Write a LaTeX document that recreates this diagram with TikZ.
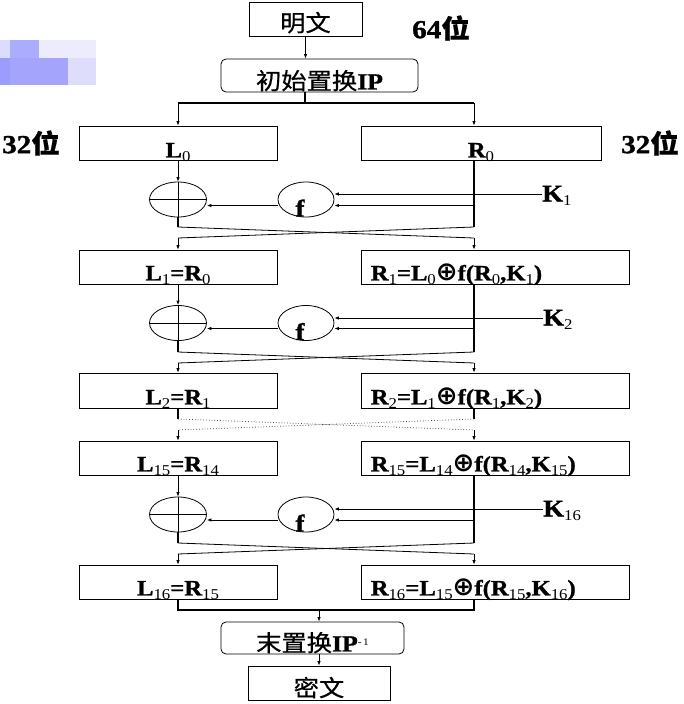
\documentclass[tikz,border=0pt]{standalone}
\usepackage{fontspec}
\usepackage{amsmath, amssymb}
\setmainfont[FakeStretch=1.12, BoldFeatures={FakeBold=1.2}]{Liberation Serif}
\newfontfamily\cjk[FakeStretch=1.1, FakeBold=0.6]{Noto Sans CJK SC}
\newfontfamily\symb{DejaVu Sans}
\usetikzlibrary{positioning, calc, arrows.meta, shapes.geometric}
\definecolor{Ink}{HTML}{000000}
\definecolor{WmA}{HTML}{DCDCFC}
\definecolor{WmB}{HTML}{ACACFC}
\definecolor{WmC}{HTML}{ECECFC}
\definecolor{WmD}{HTML}{9C9CFC}
\definecolor{WmE}{HTML}{A4A4FC}
\definecolor{WmF}{HTML}{DEDEFC}
\newcommand{\idx}[1]{\raisebox{-4pt}{\fontsize{15}{15}\selectfont\mdseries #1}}
\newcommand{\xor}{{\symb\bfseries\fontsize{26}{26}\selectfont ⊕}}
\tikzset{
    blk/.style={rectangle, draw=Ink, line width=0.8pt, minimum height=34pt, inner sep=0pt},
    rblk/.style={blk, rounded corners=5pt},
    oval/.style={ellipse, draw=Ink, line width=0.8pt, minimum width=57pt, minimum height=35pt, inner sep=0pt},
    txt/.style={inner sep=0pt, font=\fontsize{22}{22}\selectfont\bfseries},
    cjktxt/.style={inner sep=0pt, font=\fontsize{23}{23}\selectfont\cjk},
    klabel/.style={inner sep=0pt, font=\fontsize{24}{24}\selectfont\bfseries},
    bits/.style={inner sep=0pt, font=\fontsize{26}{26}\selectfont\bfseries},
    wire/.style={line width=0.8pt, color=Ink},
    bus/.style={line width=1.6pt, color=Ink},
    arrow/.style={wire, -{Latex[length=4.5pt,width=3.5pt]}},
}
\begin{document}
\begin{tikzpicture}[x=1pt, y=-1pt]
    \useasboundingbox (0,0) rectangle (684,704);

    % Riquadri sfocati in alto a sinistra
    \fill[WmA] (0,40) rectangle (10,58);
    \fill[WmB] (10,40) rectangle (39,58);
    \fill[WmC] (39,40) rectangle (96,58);
    \fill[WmD] (0,58) rectangle (10,85);
    \fill[WmE] (10,58) rectangle (68,85);
    \fill[WmF] (68,58) rectangle (96,85);

    % Testo in chiaro e permutazione iniziale
    \node[blk, minimum width=113pt] (plain) at (305.5,19) {};
    \node[cjktxt, anchor=base] (plaint) at ([yshift=5pt]plain.south) {明文};
    \node[bits, anchor=west] (b64) at (412,28) {64{\cjk\bfseries 位}};
    \node[rblk, minimum width=197pt, minimum height=33pt] (ip) at (319.5,75.5) {};
    \node[cjktxt, anchor=base] (ipt) at ([yshift=3pt]ip.south) {初始置换\textbf{\rmfamily IP}};
    \draw[arrow] (plain.south) -- (plain.south |- ip.north);

    % Divisione in L0 e R0
    \node[blk, minimum width=198pt] (l0) at (178,143) {};
    \node[blk, minimum width=240pt] (r0) at (481,143) {};
    \node[txt, anchor=base] (l0t) at ([yshift=3pt]l0.south) {L\idx{0}};
    \node[txt, anchor=base] (r0t) at ([yshift=3pt]r0.south) {R\idx{0}};
    \node[bits, anchor=west] (b32l) at (2,143) {32{\cjk\bfseries 位}};
    \node[bits, anchor=west] (b32r) at (621,143) {32{\cjk\bfseries 位}};
    \coordinate (sp) at (305,103);
    \coordinate (spl) at (178,103);
    \coordinate (spr) at (474,103);
    \draw[bus] (ip.south -| sp) -- (sp);
    \draw[bus] (spl) -- (spr);
    \draw[arrow] (spl) -- (l0.north);
    \draw[arrow] (spr) -- (spr |- r0.north);

    % Round 1
    \node[oval] (xa) at (178,199.5) {};
    \node[oval, minimum width=56pt] (fa) at (306,199.5) {};
    \node[klabel, anchor=base] (fat) at ([xshift=-6pt,yshift=1pt]fa.south) {f};
    \node[klabel, anchor=base west] (ka) at (542,201.5) {K\idx{1}};
    \coordinate (ra) at (474,205.5);
    \draw[arrow] (l0.south) -- (xa.north);
    \draw[wire] (xa.west) -- (xa.east);
    \draw[wire] (xa.north) -- (xa.south);
    \draw[bus] (r0.south -| ra) -- (ra);
    \draw[arrow] (ka.west |- 0,194) -- (fa.east |- 0,194);
    \draw[arrow] (ra) -- (ra -| fa.east);
    \draw[arrow] (fa.west |- ra) -- (xa.east |- ra);
    \coordinate (ca1) at (178,227);
    \coordinate (ca2) at (474,227);
    \coordinate (ca3) at (178,238);
    \coordinate (ca4) at (474,238);
    \draw[bus] (xa.south) -- (ca1);
    \draw[bus] (ra) -- (ca2);
    \draw[wire] (ca1) -- (ca4);
    \draw[wire] (ca2) -- (ca3);

    \node[blk, minimum width=198pt] (l1) at (178,267) {};
    \node[blk, minimum width=268pt] (r1) at (495,267) {};
    \node[txt, anchor=base] (l1t) at ([yshift=4pt]l1.south) {L\idx{1}=R\idx{0}};
    \node[txt, anchor=base west] (r1t) at ([xshift=10pt,yshift=4pt]r1.south west) {R\idx{1}=L\idx{0}\xor f(R\idx{0},K\idx{1})};
    \draw[arrow] (ca3) -- (l1.north);
    \draw[arrow] (ca4) -- (ca4 |- r1.north);

    % Round 2
    \node[oval] (xb) at (178,323) {};
    \node[oval, minimum width=56pt] (fb) at (306,323) {};
    \node[klabel, anchor=base] (fbt) at ([xshift=-6pt,yshift=1pt]fb.south) {f};
    \node[klabel, anchor=base west] (kb) at (543,325.5) {K\idx{2}};
    \coordinate (rb) at (474,328.5);
    \draw[arrow] (l1.south) -- (xb.north);
    \draw[wire] (xb.west) -- (xb.east);
    \draw[wire] (xb.north) -- (xb.south);
    \draw[bus] (r1.south -| rb) -- (rb);
    \draw[arrow] (kb.west |- 0,318) -- (fb.east |- 0,318);
    \draw[arrow] (rb) -- (rb -| fb.east);
    \draw[arrow] (fb.west |- rb) -- (xb.east |- rb);
    \coordinate (cb1) at (178,352);
    \coordinate (cb2) at (474,352);
    \coordinate (cb3) at (178,363);
    \coordinate (cb4) at (474,363);
    \draw[bus] (xb.south) -- (cb1);
    \draw[bus] (rb) -- (cb2);
    \draw[wire] (cb1) -- (cb4);
    \draw[wire] (cb2) -- (cb3);

    \node[blk, minimum width=198pt, minimum height=35pt] (l2) at (178,390.5) {};
    \node[blk, minimum width=268pt, minimum height=35pt] (r2) at (495,390.5) {};
    \node[txt, anchor=base] (l2t) at ([yshift=4pt]l2.south) {L\idx{2}=R\idx{1}};
    \node[txt, anchor=base west] (r2t) at ([xshift=10pt,yshift=4pt]r2.south west) {R\idx{2}=L\idx{1}\xor f(R\idx{1},K\idx{2})};
    \draw[arrow] (cb3) -- (l2.north);
    \draw[arrow] (cb4) -- (cb4 |- r2.north);

    % Round intermedi (puntinato)
    \coordinate (cd1) at (178,419);
    \coordinate (cd2) at (474,419);
    \coordinate (cd3) at (178,430);
    \coordinate (cd4) at (474,430);
    \draw[bus] (l2.south) -- (cd1);
    \draw[bus] (r2.south -| cd2) -- (cd2);
    \draw[wire, dotted, black!70] (cd1) -- (cd4);
    \draw[wire, dotted, black!70] (cd2) -- (cd3);

    \node[blk, minimum width=198pt] (l15) at (178,458) {};
    \node[blk, minimum width=268pt] (r15) at (495,458) {};
    \node[txt, anchor=base] (l15t) at ([yshift=4pt]l15.south) {L\idx{15}=R\idx{14}};
    \node[txt, anchor=base west] (r15t) at ([xshift=10pt,yshift=4pt]r15.south west) {R\idx{15}=L\idx{14}\xor f(R\idx{14},K\idx{15})};
    \draw[arrow] (cd3) -- (l15.north);
    \draw[arrow] (cd4) -- (cd4 |- r15.north);

    % Round 16
    \node[oval] (xc) at (178,514.5) {};
    \node[oval, minimum width=56pt] (fc) at (306,514.5) {};
    \node[klabel, anchor=base] (fct) at ([xshift=-6pt,yshift=1pt]fc.south) {f};
    \node[klabel, anchor=base west] (kc) at (543,516.5) {K\idx{16}};
    \coordinate (rc) at (474,520);
    \draw[arrow] (l15.south) -- (xc.north);
    \draw[wire] (xc.west) -- (xc.east);
    \draw[wire] (xc.north) -- (xc.south);
    \draw[bus] (r15.south -| rc) -- (rc);
    \draw[arrow] (kc.west |- 0,509) -- (fc.east |- 0,509);
    \draw[arrow] (rc) -- (rc -| fc.east);
    \draw[arrow] (fc.west |- rc) -- (xc.east |- rc);
    \coordinate (cc1) at (178,543);
    \coordinate (cc2) at (474,543);
    \coordinate (cc3) at (178,554);
    \coordinate (cc4) at (474,554);
    \draw[bus] (xc.south) -- (cc1);
    \draw[bus] (rc) -- (cc2);
    \draw[wire] (cc1) -- (cc4);
    \draw[wire] (cc2) -- (cc3);

    \node[blk, minimum width=198pt] (l16) at (178,582) {};
    \node[blk, minimum width=268pt] (r16) at (495,582) {};
    \node[txt, anchor=base] (l16t) at ([yshift=4pt]l16.south) {L\idx{16}=R\idx{15}};
    \node[txt, anchor=base west] (r16t) at ([xshift=10pt,yshift=4pt]r16.south west) {R\idx{16}=L\idx{15}\xor f(R\idx{15},K\idx{16})};
    \draw[arrow] (cc3) -- (l16.north);
    \draw[arrow] (cc4) -- (cc4 |- r16.north);

    % Permutazione finale e testo cifrato
    \node[rblk, minimum width=183pt, minimum height=32pt] (fp) at (312.5,638) {};
    \node[cjktxt, anchor=base] (fpt) at ([yshift=3pt]fp.south) {末置换\textbf{\rmfamily IP}\raisebox{6pt}{\fontsize{10}{10}\selectfont\rmfamily -\,1}};
    \node[blk, minimum width=142pt] (ct) at (319,683) {};
    \node[cjktxt, anchor=base] (ctt) at ([yshift=4pt]ct.south) {密文};
    \coordinate (jl) at (178,610);
    \coordinate (jr) at (474,610);
    \coordinate (jm) at (319,610);
    \draw[bus] (l16.south) -- (jl) -- (jr) -- (r16.south -| jr);
    \draw[arrow] (jm) -- (jm |- fp.north);
    \draw[arrow] (jm |- fp.south) -- (ct.north);
\end{tikzpicture}
\end{document}
